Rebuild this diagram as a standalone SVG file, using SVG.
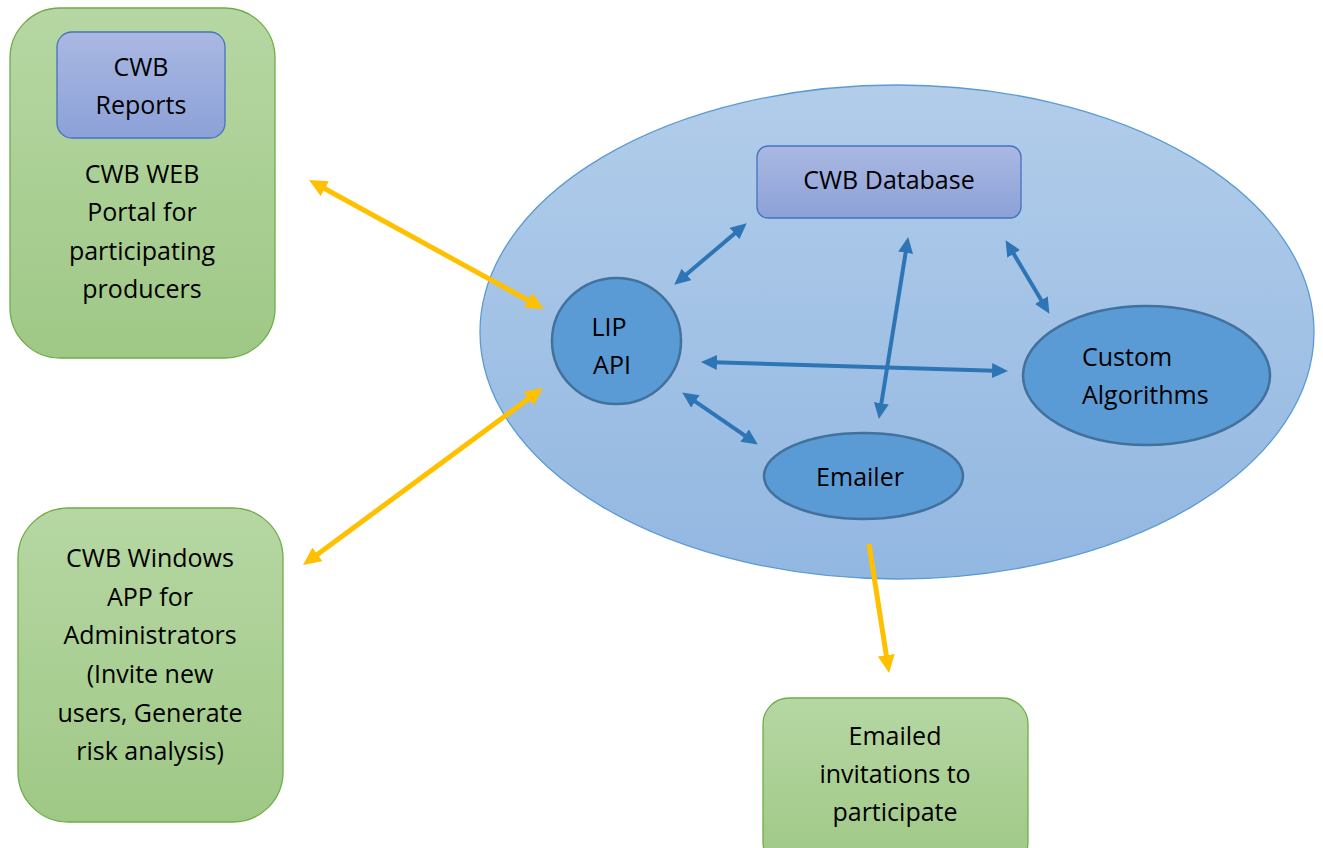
<svg xmlns="http://www.w3.org/2000/svg" width="1323" height="848" viewBox="0 0 1323 848">
  <defs>
    <linearGradient id="gGreen" x1="0" y1="0" x2="0" y2="1">
      <stop offset="0" stop-color="#b6d7a3"/>
      <stop offset="1" stop-color="#9fc886"/>
    </linearGradient>
    <linearGradient id="gPurple" x1="0" y1="0" x2="0" y2="1">
      <stop offset="0" stop-color="#aab8e2"/>
      <stop offset="1" stop-color="#8ca1d8"/>
    </linearGradient>
    <linearGradient id="gSky" x1="0" y1="0" x2="0" y2="1">
      <stop offset="0" stop-color="#b2cdea"/>
      <stop offset="1" stop-color="#92b7e1"/>
    </linearGradient>
    <marker id="headBlue" markerUnits="userSpaceOnUse" markerWidth="16" markerHeight="15" refX="3" refY="7.5" orient="auto-start-reverse" viewBox="0 0 16 15">
      <path d="M0,0 L16,7.5 L0,15 z" fill="#2e75b6"/>
    </marker>
    <marker id="headGold" markerUnits="userSpaceOnUse" markerWidth="18" markerHeight="17" refX="4" refY="8.5" orient="auto-start-reverse" viewBox="0 0 18 17">
      <path d="M0,0 L18,8.5 L0,17 z" fill="#ffc000"/>
    </marker>
  </defs>
  <style>
    text { font-family: "Open Sans", "Liberation Sans", sans-serif; font-size: 25px; fill: #000; }
    .mid { text-anchor: middle; }
    .greenBox { fill: url(#gGreen); stroke: #70ad47; stroke-width: 1.3; }
    .purpleBox { fill: url(#gPurple); stroke: #4472c4; stroke-width: 1.3; }
    .inner { fill: #5b9bd5; stroke: #41719c; stroke-width: 2.5; }
    .blue { stroke: #2e75b6; stroke-width: 4; fill: none; marker-start: url(#headBlue); marker-end: url(#headBlue); }
    .gold { stroke: #ffc000; stroke-width: 5; fill: none; marker-end: url(#headGold); }
    .both { marker-start: url(#headGold); }
  </style>

  <!-- Web portal -->
  <g id="web-portal">
    <rect class="greenBox" x="10" y="8" width="265" height="350" rx="50" ry="50"/>
    <text class="mid" x="142" y="183">CWB WEB</text>
    <text class="mid" x="142" y="221">Portal for</text>
    <text class="mid" x="142" y="260">participating</text>
    <text class="mid" x="142" y="298">producers</text>
  </g>
  <g id="cwb-reports">
    <rect class="purpleBox" x="57" y="32" width="168" height="106" rx="15" ry="15"/>
    <text class="mid" x="141" y="76">CWB</text>
    <text class="mid" x="141" y="114">Reports</text>
  </g>

  <!-- Windows admin app -->
  <g id="windows-app">
    <rect class="greenBox" x="18" y="508" width="265" height="314" rx="50" ry="50"/>
    <text class="mid" x="150" y="567">CWB Windows</text>
    <text class="mid" x="150" y="606">APP for</text>
    <text class="mid" x="150" y="644">Administrators</text>
    <text class="mid" x="150" y="683">(Invite new</text>
    <text class="mid" x="150" y="722">users, Generate</text>
    <text class="mid" x="150" y="760">risk analysis)</text>
  </g>

  <!-- Emailed invitations -->
  <g id="invitations">
    <rect class="greenBox" x="763" y="698" width="265" height="170" rx="26" ry="26"/>
    <text class="mid" x="895" y="745">Emailed</text>
    <text class="mid" x="895" y="783">invitations to</text>
    <text class="mid" x="895" y="821">participate</text>
  </g>

  <!-- Server boundary -->
  <g id="server">
    <ellipse cx="897" cy="332" rx="417" ry="247" fill="url(#gSky)" stroke="#5b9bd5" stroke-width="1.3"/>
  </g>

  <g id="cwb-database">
    <rect class="purpleBox" x="757" y="146" width="264" height="72" rx="11" ry="11"/>
    <text class="mid" x="889" y="189">CWB Database</text>
  </g>

  <g id="lip-api">
    <ellipse class="inner" cx="616.5" cy="341" rx="64.5" ry="63"/>
    <text class="mid" x="609" y="336">LIP</text>
    <text class="mid" x="612" y="374">API</text>
  </g>

  <g id="custom-algorithms">
    <ellipse class="inner" cx="1146.5" cy="375.5" rx="123.5" ry="69.5"/>
    <text x="1082" y="366">Custom</text>
    <text x="1082" y="404">Algorithms</text>
  </g>

  <g id="emailer">
    <ellipse class="inner" cx="863.5" cy="476" rx="99.5" ry="43"/>
    <text class="mid" x="860" y="486">Emailer</text>
  </g>

  <!-- Connectors -->
  <g id="connectors">
    <line class="gold both" x1="321.3" y1="186.7" x2="531.7" y2="302.3"/>
    <line class="gold both" x1="531.7" y1="396.3" x2="314.3" y2="556.7"/>
    <line class="gold" x1="869" y1="544" x2="886.9" y2="659.2"/>

    <line class="blue" x1="684.2" y1="276.3" x2="736.8" y2="231.7"/>
    <line class="blue" x1="906.1" y1="249.8" x2="880.9" y2="406.2"/>
    <line class="blue" x1="1012.2" y1="251.3" x2="1042.8" y2="302.7"/>
    <line class="blue" x1="714" y1="362.35" x2="995" y2="370.65"/>
    <line class="blue" x1="692.9" y1="399.8" x2="747.1" y2="437.2"/>
  </g>
</svg>
